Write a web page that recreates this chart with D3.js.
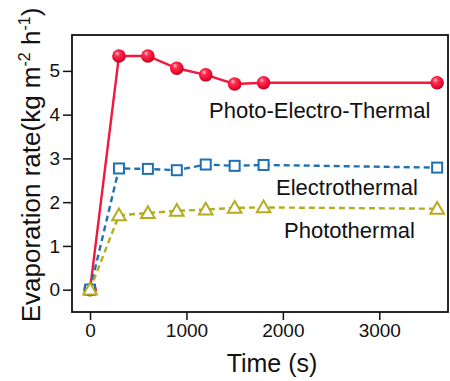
<!DOCTYPE html>
<html>
<head>
<meta charset="utf-8">
<script src="https://cdn.jsdelivr.net/npm/d3@7"></script>
<style>
  body { margin: 0; background: #fff; }
  text { font-family: "Liberation Sans", Arial, sans-serif; fill: #111; }
</style>
</head>
<body>
<div id="chart"></div>
<script>
// data
const times = [0, 300, 600, 900, 1200, 1500, 1800, 3600];
const photoElectroThermal = [0, 5.34, 5.34, 5.06, 4.91, 4.70, 4.73, 4.73];
const electrothermal = [0, 2.77, 2.76, 2.73, 2.86, 2.83, 2.85, 2.79];
const photothermal = [0, 1.70, 1.75, 1.80, 1.83, 1.87, 1.88, 1.85];
const xTicks = [0, 1000, 2000, 3000];
const yTicks = [0, 1, 2, 3, 4, 5];

const width = 450, height = 381;
const margin = { top: 35, right: 1, bottom: 69, left: 72 };

const svg = d3.select("#chart").append("svg")
    .attr("width", width)
    .attr("height", height);

const x = d3.scaleLinear().domain([-187, 3723]).range([margin.left, width - margin.right]);
const y = d3.scaleLinear().domain([-0.51, 5.82]).range([height - margin.bottom, margin.top]);

// marker gradient for the red balls
const defs = svg.append("defs");
const grad = defs.append("radialGradient")
    .attr("id", "ball")
    .attr("cx", "45%").attr("cy", "40%").attr("r", "60%")
    .attr("fx", "35%").attr("fy", "30%");
grad.append("stop").attr("offset", "0%").attr("stop-color", "#ffd0da");
grad.append("stop").attr("offset", "30%").attr("stop-color", "#ff3355");
grad.append("stop").attr("offset", "80%").attr("stop-color", "#e8062c");
grad.append("stop").attr("offset", "100%").attr("stop-color", "#b0001c");

// axes (ticks only on left and bottom)
const xAxis = svg.append("g")
    .attr("transform", `translate(0,${height - margin.bottom})`)
    .call(d3.axisBottom(x).tickValues(xTicks).tickSize(8).tickPadding(4).tickFormat(d3.format("d")));
const yAxis = svg.append("g")
    .attr("transform", `translate(${margin.left},0)`)
    .call(d3.axisLeft(y).tickValues(yTicks).tickSize(9).tickPadding(3).tickFormat(d3.format("d")));

[xAxis, yAxis].forEach(g => {
    g.select(".domain").remove();
    g.selectAll(".tick line").attr("stroke", "#111").attr("stroke-width", 1.5);
    g.selectAll(".tick text").style("font-size", "19px").attr("fill", "#111");
});

// frame
svg.append("rect")
    .attr("x", margin.left)
    .attr("y", margin.top)
    .attr("width", width - margin.left - margin.right - 1)
    .attr("height", height - margin.top - margin.bottom)
    .attr("fill", "none")
    .attr("stroke", "#111")
    .attr("stroke-width", 1.8);

const line = d3.line().x((d, i) => x(times[i])).y(d => y(d));

const series = [
    { values: photoElectroThermal, color: "#f2173c", dash: null, marker: "circle" },
    { values: electrothermal, color: "#1f70b2", dash: "6,4", marker: "square" },
    { values: photothermal, color: "#b5ac1e", dash: "6,4", marker: "triangle" }
];

series.forEach(s => {
    svg.append("path")
        .datum(s.values)
        .attr("d", line)
        .attr("fill", "none")
        .attr("stroke", s.color)
        .attr("stroke-width", 2.4)
        .attr("stroke-dasharray", s.dash);
});

series.forEach(s => {
    const g = svg.append("g");
    if (s.marker === "circle") {
        g.selectAll("circle").data(s.values).enter().append("circle")
            .attr("cx", (d, i) => x(times[i]))
            .attr("cy", d => y(d))
            .attr("r", 6.8)
            .attr("fill", "url(#ball)");
    } else if (s.marker === "square") {
        g.selectAll("rect").data(s.values).enter().append("rect")
            .attr("x", (d, i) => x(times[i]) - 5)
            .attr("y", d => y(d) - 5)
            .attr("width", 10)
            .attr("height", 10)
            .attr("fill", "#fff")
            .attr("stroke", s.color)
            .attr("stroke-width", 2);
    } else {
        const tri = d3.symbol().type(d3.symbolTriangle).size(80);
        g.selectAll("path").data(s.values).enter().append("path")
            .attr("d", tri)
            .attr("transform", (d, i) => `translate(${x(times[i])},${y(d) + 1})`)
            .attr("fill", "#fff")
            .attr("stroke", s.color)
            .attr("stroke-width", 2);
    }
});

// series labels
const labels = [
    { text: "Photo-Electro-Thermal", t: 1234, v: 3.92 },
    { text: "Electrothermal", t: 1929, v: 2.16 },
    { text: "Photothermal", t: 2012, v: 1.18 }
];
svg.selectAll(".lbl").data(labels).enter().append("text")
    .attr("class", "lbl")
    .attr("x", d => x(d.t))
    .attr("y", d => y(d.v))
    .style("font-size", "22px")
    .text(d => d.text);

// axis titles
svg.append("text")
    .attr("x", 272)
    .attr("y", 372)
    .attr("text-anchor", "middle")
    .style("font-size", "25px")
    .text("Time (s)");

const yt = svg.append("text")
    .attr("transform", "translate(40,165) rotate(-90)")
    .attr("text-anchor", "middle")
    .style("font-size", "26px");
yt.append("tspan").text("Evaporation rate(kg m");
yt.append("tspan").attr("dy", -10).style("font-size", "16px").text("-2");
yt.append("tspan").attr("dy", 10).text(" h");
yt.append("tspan").attr("dy", -10).style("font-size", "16px").text("-1");
yt.append("tspan").attr("dy", 10).text(")");
</script>
</body>
</html>
